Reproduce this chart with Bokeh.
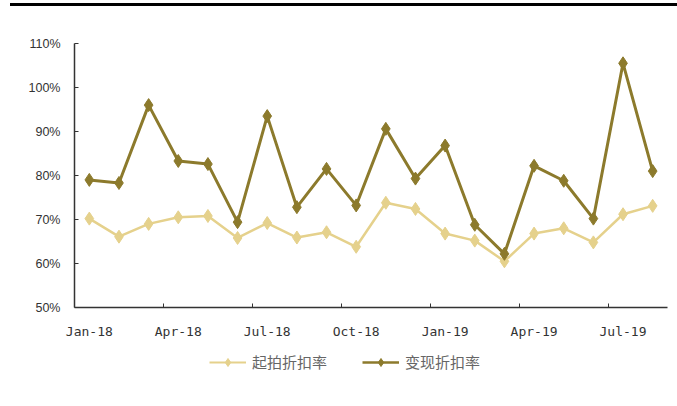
from bokeh.plotting import figure
from bokeh.models import FixedTicker, NumeralTickFormatter, Range1d, Div
from bokeh.layouts import column
from bokeh.embed import file_html
from bokeh.resources import INLINE

months = ["Jan-18", "Feb-18", "Mar-18", "Apr-18", "May-18", "Jun-18", "Jul-18", "Aug-18",
          "Sep-18", "Oct-18", "Nov-18", "Dec-18", "Jan-19", "Feb-19", "Mar-19", "Apr-19",
          "May-19", "Jun-19", "Jul-19", "Aug-19"]
start_discount = [70.2, 66.1, 69.0, 70.5, 70.8, 65.8, 69.2, 65.9, 67.1, 63.8,
                  73.8, 72.4, 66.8, 65.2, 60.5, 66.8, 68.0, 64.8, 71.2, 73.1]
realized_discount = [79.0, 78.3, 96.0, 83.3, 82.6, 69.4, 93.5, 72.8, 81.5, 73.2,
                     90.6, 79.3, 86.8, 68.8, 62.2, 82.2, 78.8, 70.2, 105.5, 81.0]
series_names = ["起拍折扣率", "变现折扣率"]
y_ticks = [50, 60, 70, 80, 90, 100, 110]

x = list(range(len(months)))
start_vals = [v / 100 for v in start_discount]
real_vals = [v / 100 for v in realized_discount]

light = "#E5D18C"
dark = "#8C7A2C"
axis_col = "#333333"

p = figure(width=677, height=340, output_backend="svg", toolbar_location=None,
           x_range=Range1d(-0.5, len(months) - 0.5), y_range=Range1d(0.5, 1.1),
           min_border_left=74, min_border_right=10, min_border_top=37, min_border_bottom=39)
p.outline_line_color = None
p.xgrid.grid_line_color = None
p.ygrid.grid_line_color = None

p.line(x, start_vals, line_color=light, line_width=2.5)
p.scatter(x, start_vals, marker="diamond", size=13, fill_color=light, line_color=light)
p.line(x, real_vals, line_color=dark, line_width=3)
p.scatter(x, real_vals, marker="diamond", size=13, fill_color=dark, line_color=dark)

label_idx = list(range(0, len(months), 3))
p.xaxis.ticker = FixedTicker(ticks=label_idx, minor_ticks=[i - 0.5 for i in label_idx[1:]])
p.xaxis.major_label_overrides = {i: months[i] for i in label_idx}
p.xaxis.major_tick_line_color = None
p.xaxis.minor_tick_in = 4
p.xaxis.minor_tick_out = 0
p.xaxis.minor_tick_line_color = axis_col
p.xaxis.major_label_standoff = 10
p.xaxis.major_label_text_font = "DejaVu Sans Mono"
p.xaxis.major_label_text_font_size = "13px"
p.xaxis.major_label_text_color = axis_col
p.xaxis.axis_line_color = axis_col
p.xaxis.axis_line_width = 1.5

p.yaxis.ticker = FixedTicker(ticks=[t / 100 for t in y_ticks])
p.yaxis.formatter = NumeralTickFormatter(format="0%")
p.yaxis.major_tick_in = 4
p.yaxis.major_tick_out = 0
p.yaxis.minor_tick_line_color = None
p.yaxis.major_tick_line_color = axis_col
p.yaxis.major_label_standoff = 14
p.yaxis.major_label_text_font = "Liberation Sans"
p.yaxis.major_label_text_font_size = "12.5px"
p.yaxis.major_label_text_color = axis_col
p.yaxis.axis_line_color = axis_col
p.yaxis.axis_line_width = 1.5

# legend strip: a small figure whose ranges keep the series out of view, holding only the legend
pl = figure(width=677, height=34, output_backend="svg", toolbar_location=None,
            x_range=Range1d(1000, 1001), y_range=Range1d(1000, 1001),
            min_border_left=0, min_border_right=0, min_border_top=0, min_border_bottom=0)
pl.axis.visible = False
pl.grid.visible = False
pl.outline_line_color = None
pl.line(x, start_vals, line_color=light, line_width=2, legend_label=series_names[0])
pl.scatter(x, start_vals, marker="diamond", size=10, fill_color=light, line_color=light,
           legend_label=series_names[0])
pl.line(x, real_vals, line_color=dark, line_width=2.5, legend_label=series_names[1])
pl.scatter(x, real_vals, marker="diamond", size=10, fill_color=dark, line_color=dark,
           legend_label=series_names[1])
lg = pl.legend[0]
lg.orientation = "horizontal"
lg.location = (135, 8)
lg.border_line_color = None
lg.background_fill_alpha = 0
lg.label_text_font = "Noto Sans CJK SC"
lg.label_text_font_size = "15px"
lg.label_text_color = "#666666"
lg.glyph_width = 37
lg.spacing = 35
lg.label_standoff = 6
lg.margin = 0
lg.padding = 4

top_line = Div(text="", width=667, height=3, margin=(3, 0, 0, 10),
               styles={"background-color": "black"})

layout = column(top_line, p, pl, spacing=0)
open("out.html", "w").write(file_html(layout, INLINE))
